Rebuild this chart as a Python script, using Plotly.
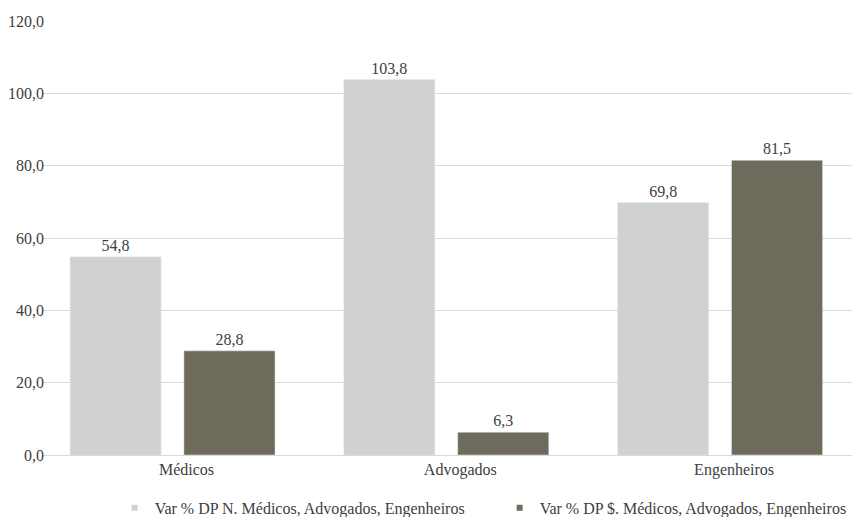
import plotly.graph_objects as go

categories = ["Médicos", "Advogados", "Engenheiros"]
series_n = [54.8, 103.8, 69.8]
series_s = [28.8, 6.3, 81.5]
name_n = "Var % DP N. Médicos, Advogados, Engenheiros"
name_s = "Var % DP $. Médicos, Advogados, Engenheiros"
tick_vals = [0, 20, 40, 60, 80, 100, 120]

c_light = "#d0d2d1"
c_dark = "#6e6b5c"
font_family = "'Liberation Serif', 'DejaVu Serif', serif"
txt = "#404040"
fs = 16

fig = go.Figure()
fig.add_trace(go.Bar(x=categories, y=series_n, marker_color=c_light, name=name_n,
                     text=[f"{v:.1f}".replace(".", ",") for v in series_n],
                     textposition="outside", cliponaxis=False, showlegend=False,
                     textfont=dict(size=fs, color=txt, family=font_family)))
fig.add_trace(go.Bar(x=categories, y=series_s, marker_color=c_dark, name=name_s,
                     text=[f"{v:.1f}".replace(".", ",") for v in series_s],
                     textposition="outside", cliponaxis=False, showlegend=False,
                     textfont=dict(size=fs, color=txt, family=font_family)))
fig.add_trace(go.Scatter(x=[None], y=[None], mode="markers", name=name_n,
                         marker=dict(symbol="square", size=6, color=c_light)))
fig.add_trace(go.Scatter(x=[None], y=[None], mode="markers", name=name_s,
                         marker=dict(symbol="square", size=6, color=c_dark)))

fig.update_layout(
    width=852, height=509,
    margin=dict(l=35, r=3, t=13, b=62, autoexpand=False),
    paper_bgcolor="white", plot_bgcolor="white",
    separators=",.",
    barmode="group", bargap=0.168, bargroupgap=0.2,
    font=dict(family=font_family, size=fs, color=txt),
    showlegend=True,
    legend=dict(orientation="h", x=0.088, xanchor="left",
                yref="container", y=0.018, yanchor="middle",
                font=dict(size=fs, color=txt, family=font_family), itemwidth=30,
                entrywidth=340),
    xaxis=dict(showline=True, linecolor="#d9d9d9", linewidth=1, ticks="",
               range=[-0.473, 2.5], ticklabelshift=14,
               tickfont=dict(size=fs, color=txt, family=font_family)),
    yaxis=dict(range=[0, 120], tickvals=tick_vals, tickformat=".1f",
               showgrid=True, gridcolor="#d9d9d9", gridwidth=1, zeroline=False,
               showline=False, ticks="", ticklabelstandoff=-2,
               tickfont=dict(size=fs, color=txt, family=font_family)),
)

fig.write_html("out.html")
